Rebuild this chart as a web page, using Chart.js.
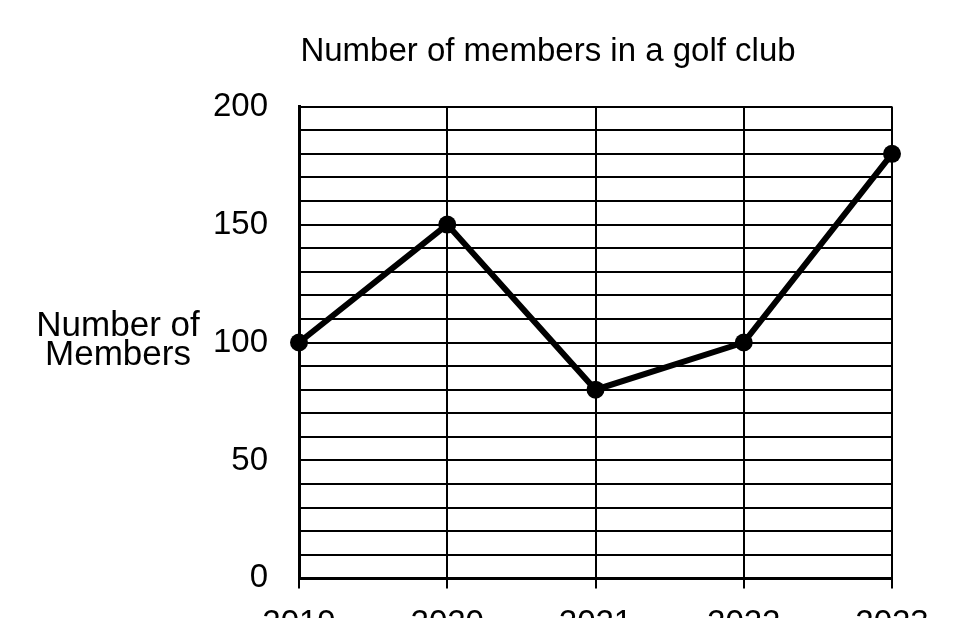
<!DOCTYPE html>
<html>
<head>
<meta charset="utf-8">
<script src="https://cdn.jsdelivr.net/npm/chart.js@4"></script>
<style>
  html, body { margin: 0; padding: 0; background: #fff; }
  #clip { width: 961px; height: 618px; overflow: hidden; }
  #box { position: relative; width: 961px; height: 660px; }
</style>
</head>
<body>
<div id="clip">
  <div id="box"><canvas id="grafico"></canvas></div>
</div>
<script>
const anos = ["2019", "2020", "2021", "2022", "2023"];
const membros = [100, 150, 80, 100, 180];
const rotulosY = [0, 50, 100, 150, 200];
const tituloY = ["Number of", "Members"];

const fonte = "'Liberation Sans', Arial, sans-serif";

// y title is horizontal in the original, so draw it by hand
const tituloEixoY = {
    id: "tituloEixoY",
    afterDraw(chart) {
        const ctx = chart.ctx;
        const y100 = chart.scales.y.getPixelForValue(100);
        ctx.save();
        ctx.fillStyle = "#000";
        ctx.font = "35px " + fonte;
        ctx.textAlign = "center";
        ctx.textBaseline = "alphabetic";
        ctx.fillText(tituloY[0], 118, y100 - 7);
        ctx.fillText(tituloY[1], 118, y100 + 22);
        ctx.restore();
    }
};

new Chart(document.getElementById("grafico"), {
    type: "line",
    data: {
        labels: anos,
        datasets: [{
            label: "Members",
            data: membros,
            borderColor: "#000",
            backgroundColor: "#000",
            borderWidth: 6,
            pointRadius: 9,
            pointBackgroundColor: "#000",
            pointBorderWidth: 0,
            tension: 0,
            clip: false
        }]
    },
    options: {
        responsive: true,
        maintainAspectRatio: false,
        animation: false,
        layout: { padding: { left: 204, right: 69, top: 0, bottom: 0 } },
        plugins: {
            legend: { display: false },
            tooltip: { enabled: false },
            title: {
                display: true,
                text: "Number of members in a golf club",
                color: "#000",
                font: { family: fonte, size: 33, weight: "normal" },
                padding: { top: 32, bottom: 35 }
            }
        },
        scales: {
            x: {
                offset: false,
                ticks: {
                    color: "#000",
                    font: { family: fonte, size: 33 },
                    padding: 16,
                    maxRotation: 0
                },
                grid: { color: "#000", lineWidth: 2, tickLength: 10 },
                border: { color: "#000", width: 3 }
            },
            y: {
                min: 0,
                max: 200,
                afterFit(scale) { scale.width = 95; },
                ticks: {
                    stepSize: 10,
                    autoSkip: false,
                    maxTicksLimit: 30,
                    color: "#000",
                    font: { family: fonte, size: 33 },
                    padding: 31,
                    callback: function (v) { return rotulosY.includes(v) ? v : ""; }
                },
                grid: { color: "#000", lineWidth: 2, drawTicks: false },
                border: { color: "#000", width: 3 }
            }
        }
    },
    plugins: [tituloEixoY]
});
</script>
</body>
</html>
